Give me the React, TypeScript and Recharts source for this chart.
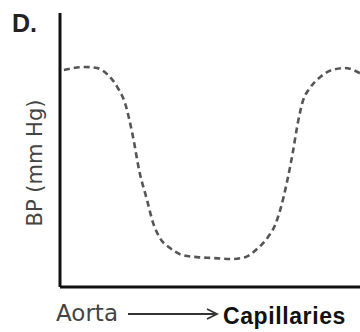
import { LineChart, Line, XAxis, YAxis } from "recharts"

// position along the vessel path (0 = aorta, 100 = far end), blood pressure (arbitrary units)
const positions = [1.3, 8.3, 12.3, 16, 19.3, 21.7, 24.3, 26.5, 29, 31, 33.3, 36.7, 40.7, 45.7, 50.7, 57.3, 61.7, 66, 69.3, 71.7, 73.5, 75.7, 77.5, 79.3, 81, 83.3, 86.7, 90.7, 95, 100]
const pressure = [79.2, 80.3, 79.9, 77.4, 72.6, 67, 55, 42, 31.8, 23.5, 17.9, 14.2, 11.7, 10.9, 10.6, 10.2, 10.9, 14.2, 18.2, 22.6, 28.5, 38.5, 48.5, 60, 68, 72.6, 76.6, 79.2, 79.9, 78]

const data = positions.map((x, i) => ({ x, bp: pressure[i] }))

export default function App() {
  return (
    <div style={{ position: "absolute", left: 0, top: 0, width: 360, height: 332, background: "#fff" }}>
      <LineChart width={360} height={332} data={data} margin={{ top: 13, right: 0, left: 0, bottom: 44 }}>
        <XAxis dataKey="x" type="number" domain={[0, 100]} tick={false} tickLine={false} height={1}
          axisLine={{ stroke: "#111", strokeWidth: 3 }} />
        <YAxis domain={[0, 100]} tick={false} tickLine={false} width={60}
          axisLine={{ stroke: "#111", strokeWidth: 3 }} />
        <Line type="monotone" dataKey="bp" stroke="#555" strokeWidth={2.6} strokeDasharray="6 4"
          dot={false} isAnimationActive={false} />
      </LineChart>
      <svg width={360} height={332} style={{ position: "absolute", left: 0, top: 0, pointerEvents: "none" }}>
        <text x={12} y={32} fontFamily="Liberation Sans" fontWeight="bold" fontSize={25} fill="#222">D.</text>
        <text transform="translate(42,163) rotate(-90)" textAnchor="middle" fontFamily="DejaVu Sans" fontSize={21} fill="#444">
          BP (mm Hg)
        </text>
        <text x={56} y={321} fontFamily="DejaVu Sans" fontSize={23} fill="#444">Aorta</text>
        <line x1={128} y1={314} x2={216} y2={314} stroke="#333" strokeWidth={1.8} />
        <polyline points="207,309 217,314 207,319" fill="none" stroke="#333" strokeWidth={1.8} />
        <text x={223} y={324} fontFamily="Liberation Sans" fontWeight="bold" fontSize={23} letterSpacing={0.6} fill="#111">
          Capillaries
        </text>
      </svg>
    </div>
  )
}
